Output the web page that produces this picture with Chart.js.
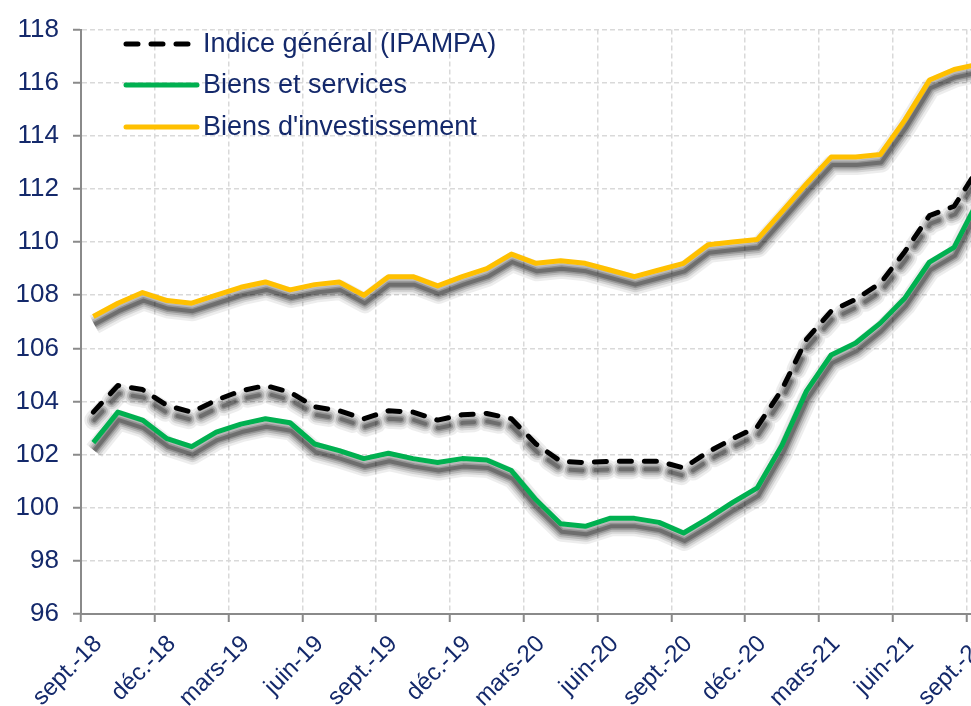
<!DOCTYPE html>
<html lang="fr">
  <head>
    <meta charset="UTF-8" />
    <title>IPAMPA</title>
    <script src="https://cdn.jsdelivr.net/npm/chart.js"></script>
    <style>
      html,
      body {
        margin: 0;
        padding: 0;
        overflow: hidden;
        background: #fff;
      }
      .chart-container {
        position: relative;
        width: 1010px;
        height: 706px;
      }
    </style>
  </head>
  <body>
    <div class="chart-container">
      <canvas id="ipampaChart"></canvas>
    </div>

    <script>
      const months = [
        "sept.-18", "oct.-18", "nov.-18", "déc.-18", "janv.-19", "févr.-19",
        "mars-19", "avr.-19", "mai-19", "juin-19", "juil.-19", "août-19",
        "sept.-19", "oct.-19", "nov.-19", "déc.-19", "janv.-20", "févr.-20",
        "mars-20", "avr.-20", "mai-20", "juin-20", "juil.-20", "août-20",
        "sept.-20", "oct.-20", "nov.-20", "déc.-20", "janv.-21", "févr.-21",
        "mars-21", "avr.-21", "mai-21", "juin-21", "juil.-21", "août-21",
        "sept.-21",
      ];

      const indiceGeneral = [
        103.6, 104.6, 104.45, 103.85, 103.6, 104.05, 104.4, 104.6, 104.35,
        103.8, 103.65, 103.35, 103.65, 103.6, 103.3, 103.5, 103.55, 103.35,
        102.4, 101.75, 101.7, 101.75, 101.75, 101.75, 101.5, 102.1, 102.6,
        103.05, 104.45, 106.35, 107.4, 107.85, 108.45, 109.65, 111.0, 111.35,
        112.8,
      ];

      const biensServices = [
        102.45, 103.6, 103.3, 102.6, 102.3, 102.85, 103.15, 103.35, 103.2,
        102.4, 102.15, 101.85, 102.05, 101.85, 101.7, 101.85, 101.8, 101.4,
        100.3, 99.4, 99.3, 99.6, 99.6, 99.45, 99.05, 99.6, 100.2, 100.75,
        102.35, 104.4, 105.75, 106.2, 106.95, 107.9, 109.25, 109.8, 111.6,
      ];

      const biensInvestissement = [
        107.2, 107.7, 108.1, 107.8, 107.7, 108.0, 108.3, 108.5, 108.2, 108.4,
        108.5, 108.0, 108.7, 108.7, 108.35, 108.7, 109.0, 109.55, 109.2,
        109.3, 109.2, 108.95, 108.7, 108.95, 109.2, 109.9, 110.0, 110.1,
        111.15, 112.2, 113.2, 113.2, 113.3, 114.6, 116.1, 116.5, 116.7,
      ];

      const textColor = "#14296b";
      const axisColor = "#8a8a8a";
      const gridColor = "#d9d9d9";
      const fontFamily = '"Liberation Sans", Arial, sans-serif';

      // blurred grey shadow under each line (stacked soft strokes
      // following the points the line controller has laid out)
      const lineShadow = {
        id: "lineShadow",
        beforeDatasetDraw(chart, args) {
          const ctx = chart.ctx;
          const pts = args.meta.data;
          const ds = chart.data.datasets[args.index];
          const dx = 1;
          const dy = 8;
          const layers = [
            [20, 0.07],
            [15, 0.1],
            [11, 0.14],
            [7, 0.2],
            [4, 0.25],
          ];
          ctx.save();
          ctx.setLineDash(ds.borderDash || []);
          ctx.lineJoin = "round";
          ctx.lineCap = ds.borderDash ? "round" : "butt";
          layers.forEach(([w, a]) => {
            ctx.lineWidth = w;
            ctx.strokeStyle = "rgba(0, 0, 0, " + a + ")";
            ctx.beginPath();
            pts.forEach((p, i) => {
              if (i === 0) ctx.moveTo(p.x + dx, p.y + dy);
              else ctx.lineTo(p.x + dx, p.y + dy);
            });
            ctx.stroke();
          });
          ctx.restore();
        },
      };

      // legend drawn inside the plot, top left
      const insideLegend = {
        id: "insideLegend",
        afterDraw(chart) {
          const ctx = chart.ctx;
          const x0 = 126;
          const x1 = 197;
          const rows = [44, 85, 127];
          ctx.save();
          chart.data.datasets.forEach((ds, i) => {
            const y = rows[i];
            ctx.beginPath();
            ctx.setLineDash(ds.borderDash || []);
            ctx.lineCap = "round";
            ctx.lineWidth = 5;
            ctx.strokeStyle = ds.borderColor;
            ctx.moveTo(x0, y);
            ctx.lineTo(x1, y);
            ctx.stroke();
            ctx.setLineDash([]);
            ctx.font = "27px " + fontFamily;
            ctx.fillStyle = textColor;
            ctx.textBaseline = "middle";
            ctx.textAlign = "left";
            ctx.fillText(ds.label, 203, y + 1);
          });
          ctx.restore();
        },
      };

      const config = {
        type: "line",
        data: {
          labels: months,
          datasets: [
            {
              label: "Indice général (IPAMPA)",
              data: indiceGeneral,
              borderColor: "#000000",
              borderWidth: 5,
              borderDash: [12, 13],
              borderCapStyle: "round",
              order: 0,
            },
            {
              label: "Biens et services",
              data: biensServices,
              borderColor: "#00b050",
              borderWidth: 5,
              order: 1,
            },
            {
              label: "Biens d'investissement",
              data: biensInvestissement,
              borderColor: "#ffc000",
              borderWidth: 5,
              order: 2,
            },
          ],
        },
        options: {
          responsive: true,
          maintainAspectRatio: false,
          animation: false,
          layout: {
            padding: { top: 23, right: 19, left: 0, bottom: 0 },
          },
          elements: {
            point: { radius: 0 },
            line: { tension: 0, borderJoinStyle: "round", fill: false },
          },
          plugins: {
            legend: { display: false },
            tooltip: { enabled: false },
          },
          scales: {
            x: {
              type: "category",
              offset: true,
              grid: {
                offset: true,
                lineWidth: 1.5,
                tickLength: 8,
                color: (c) => (c.index % 3 === 0 ? gridColor : "transparent"),
                tickColor: (c) => (c.index % 3 === 0 ? axisColor : "transparent"),
                tickWidth: 2,
              },
              border: { color: axisColor, width: 2, dash: [5, 3] },
              ticks: {
                autoSkip: false,
                maxRotation: 45,
                minRotation: 45,
                padding: 8,
                labelOffset: 5,
                color: textColor,
                font: { family: fontFamily, size: 24 },
                callback: function (value, index) {
                  return index % 3 === 0 ? this.getLabelForValue(value) : "";
                },
              },
              afterFit: (scale) => {
                scale.height = 92;
              },
            },
            y: {
              min: 96,
              max: 118,
              grid: {
                color: gridColor,
                lineWidth: 1.5,
                tickLength: 8,
                tickColor: axisColor,
                tickWidth: 2,
              },
              border: { color: axisColor, width: 2, dash: [5, 3] },
              ticks: {
                stepSize: 2,
                padding: 14,
                color: textColor,
                font: { family: fontFamily, size: 26 },
              },
              afterFit: (scale) => {
                scale.width = 81;
              },
            },
          },
        },
        plugins: [lineShadow, insideLegend],
      };

      window.onload = function () {
        const ctx = document.getElementById("ipampaChart").getContext("2d");
        new Chart(ctx, config);
      };
    </script>
  </body>
</html>
